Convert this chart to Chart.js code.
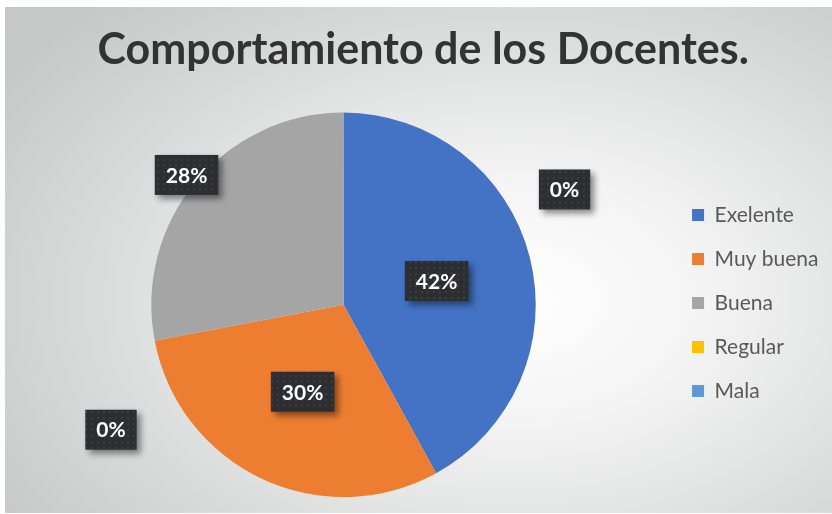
<!DOCTYPE html>
<html>
<head>
<meta charset="utf-8">
<script src="https://cdn.jsdelivr.net/npm/chart.js@4.4.1/dist/chart.umd.min.js"></script>
<style>
  html, body { margin: 0; padding: 0; background: #fff; }
  #wrap {
    position: absolute; left: 5px; top: 7px; width: 827px; height: 506px;
    background: radial-gradient(ellipse 75% 80% at 62% 58%, #ffffff 0%, #f4f4f4 30%, #dcdddd 65%, #c6c8c8 100%);
  }
</style>
</head>
<body>
<div id="wrap"><canvas id="chart" width="827" height="506"></canvas></div>
<script>
(function() {
    'use strict';

    const categories = ['Exelente', 'Muy buena', 'Buena', 'Regular', 'Mala'];
    const percentages = [42, 30, 28, 0, 0];
    const sliceColors = ['#4472C4', '#ED7D31', '#A5A5A5', '#FFC000', '#5B9BD5'];

    // where each label sits, as [radius factor] or [dx, dy] in radii for empty slices
    const labelSpots = [[0.5], [0.5], [1.06], [1.15, -0.6], [-1.21, 0.65]];

    function dotPattern(ctx) {
        const p = document.createElement('canvas');
        p.width = 6; p.height = 6;
        const pc = p.getContext('2d');
        pc.fillStyle = '#2c2e31';
        pc.fillRect(0, 0, 6, 6);
        pc.fillStyle = '#3b3d40';
        pc.fillRect(2, 2, 2, 2);
        return ctx.createPattern(p, 'repeat');
    }

    const boxLabels = {
        id: 'boxLabels',
        afterDatasetsDraw(chart) {
            const ctx = chart.ctx;
            const meta = chart.getDatasetMeta(0);
            const fill = dotPattern(ctx);
            ctx.save();
            ctx.font = 'bold 21px Lato';
            ctx.textAlign = 'center';
            ctx.textBaseline = 'middle';
            meta.data.forEach((arc, i) => {
                const p = arc.getProps(['x', 'y', 'startAngle', 'endAngle', 'outerRadius'], true);
                const spot = labelSpots[i];
                let cx, cy;
                if (spot.length === 1) {
                    const mid = (p.startAngle + p.endAngle) / 2;
                    cx = p.x + Math.cos(mid) * p.outerRadius * spot[0];
                    cy = p.y + Math.sin(mid) * p.outerRadius * spot[0];
                } else {
                    cx = p.x + spot[0] * p.outerRadius;
                    cy = p.y + spot[1] * p.outerRadius;
                }
                const text = percentages[i] + '%';
                const w = ctx.measureText(text).width + 22;
                const h = 40;
                ctx.save();
                ctx.shadowColor = 'rgba(0,0,0,0.45)';
                ctx.shadowBlur = 6;
                ctx.shadowOffsetX = 4;
                ctx.shadowOffsetY = 4;
                ctx.fillStyle = fill;
                ctx.fillRect(cx - w / 2, cy - h / 2, w, h);
                ctx.restore();
                ctx.fillStyle = '#ffffff';
                ctx.fillText(text, cx, cy + 1);
            });
            ctx.restore();
        }
    };

    new Chart(document.getElementById('chart'), {
        type: 'pie',
        data: {
            labels: categories,
            datasets: [{
                data: percentages,
                backgroundColor: sliceColors,
                borderWidth: 0
            }]
        },
        options: {
            responsive: false,
            animation: false,
            layout: { padding: { left: 13, right: 3.5, top: 0, bottom: 16 } },
            plugins: {
                title: {
                    display: true,
                    text: 'Comportamiento de los Docentes.',
                    color: '#333333',
                    font: { family: 'Lato', size: 43, weight: 'bold', lineHeight: 1.2 },
                    padding: { top: 17, bottom: 37 }
                },
                legend: {
                    position: 'right',
                    title: {
                        display: true,
                        text: '',
                        font: { size: 10, lineHeight: 1 },
                        padding: { top: 92, bottom: 0 }
                    },
                    labels: {
                        color: '#595959',
                        font: { family: 'Lato', size: 21 },
                        boxWidth: 12,
                        boxHeight: 12,
                        padding: 23
                    }
                },
                tooltip: { enabled: false }
            }
        },
        plugins: [boxLabels]
    });
})();
</script>
</body>
</html>
